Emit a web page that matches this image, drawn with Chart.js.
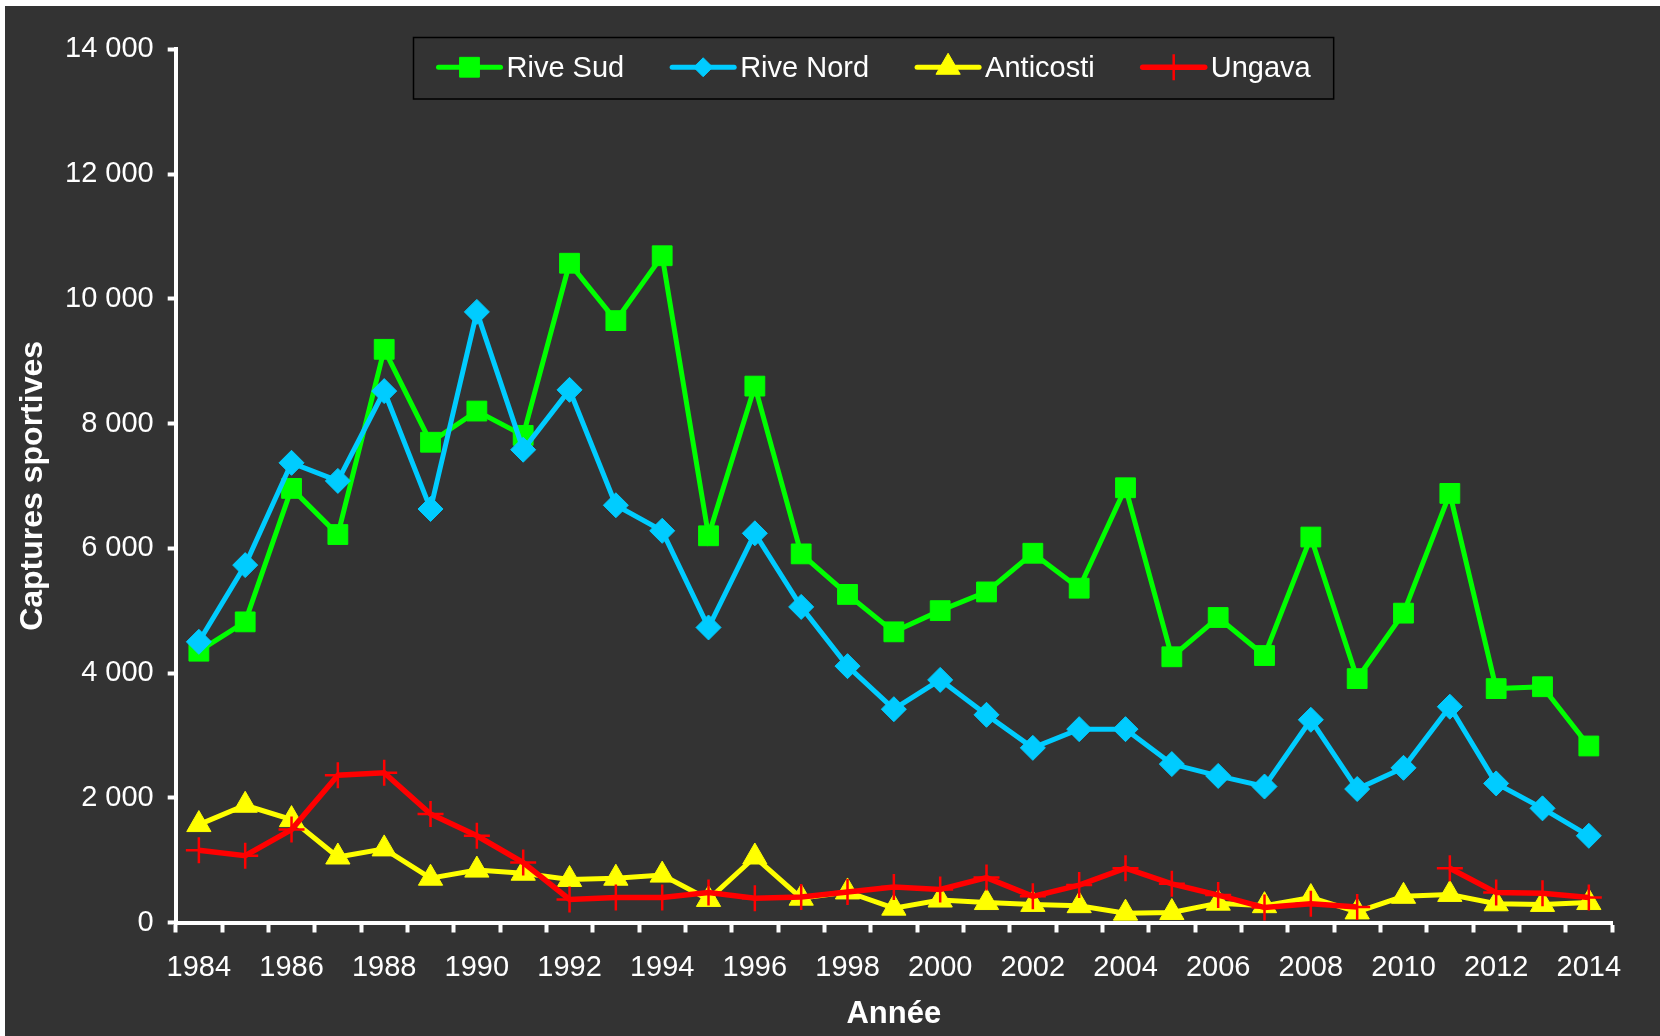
<!DOCTYPE html>
<html>
<head>
<meta charset="utf-8">
<script src="https://cdn.jsdelivr.net/npm/chart.js@4.4.1/dist/chart.umd.min.js"></script>
<style>
  html, body { margin: 0; padding: 0; background: #ffffff; }
  #wrap { position: absolute; left: 5px; top: 6px; width: 1655px; height: 1030px; background: #333333; }
  #chart { display: block; }
</style>
</head>
<body>
<div id="wrap"><canvas id="chart" width="1655" height="1030"></canvas></div>
<script>
// Données
const years = ['1984', '1985', '1986', '1987', '1988', '1989', '1990', '1991', '1992', '1993',
               '1994', '1995', '1996', '1997', '1998', '1999', '2000', '2001', '2002', '2003',
               '2004', '2005', '2006', '2007', '2008', '2009', '2010', '2011', '2012', '2013', '2014'];

const riveSud = [4350, 4820, 6960, 6220, 9190, 7700, 8200, 7810, 10570, 9650,
                 10690, 6200, 8600, 5910, 5260, 4660, 5000, 5300, 5920, 5360,
                 6970, 4260, 4890, 4280, 6180, 3910, 4960, 6880, 3750, 3780, 2830];

const riveNord = [4500, 5730, 7370, 7080, 8520, 6630, 9790, 7580, 8540, 6690,
                  6280, 4730, 6240, 5060, 4110, 3420, 3890, 3330, 2800, 3100,
                  3100, 2540, 2350, 2180, 3250, 2140, 2480, 3460, 2230, 1830, 1390];

const anticosti = [1570, 1880, 1650, 1050, 1180, 710, 840, 790, 690, 710,
                   760, 370, 1050, 390, 490, 230, 360, 320, 290, 270,
                   150, 160, 310, 270, 400, 170, 420, 450, 300, 290, 320];

const ungava = [1160, 1070, 1490, 2360, 2400, 1740, 1390, 960, 370, 400,
                400, 480, 390, 410, 490, 570, 530, 720, 420, 600,
                870, 620, 440, 240, 300, 250, null, 870, 480, 470, 400];

const yTickLabels = ['0', '2 000', '4 000', '6 000', '8 000', '10 000', '12 000', '14 000'];

Chart.defaults.font.family = '"Liberation Sans", Arial, sans-serif';
Chart.defaults.color = '#ffffff';

// Légende encadrée (trait + marqueur), dessinée par-dessus la zone du graphique
const legendBox = {
    id: 'legendBox',
    afterDraw(chart) {
        const ctx = chart.ctx;
        const left = 408.5, top = 31.5, height = 61.5;
        const lineLen = 62, gapText = 6, gapItem = 48, padL = 25, padR = 23;
        const items = chart.data.datasets;
        ctx.save();
        ctx.font = '29px "Liberation Sans", Arial, sans-serif';
        let width = padL + padR;
        items.forEach((ds, i) => {
            width += lineLen + gapText + ctx.measureText(ds.label).width + (i < items.length - 1 ? gapItem : 0);
        });
        ctx.fillStyle = '#333333';
        ctx.fillRect(left, top, width, height);
        ctx.strokeStyle = '#000000';
        ctx.lineWidth = 1.5;
        ctx.strokeRect(left, top, width, height);

        let x = left + padL;
        const cy = top + height / 2 - 1;
        items.forEach(ds => {
            ctx.strokeStyle = ds.borderColor;
            ctx.lineWidth = ds.borderWidth;
            ctx.lineCap = 'round';
            ctx.beginPath();
            ctx.moveTo(x, cy);
            ctx.lineTo(x + lineLen, cy);
            ctx.stroke();
            ctx.lineCap = 'butt';
            ctx.fillStyle = ds.pointBackgroundColor;
            ctx.strokeStyle = ds.pointBorderColor;
            ctx.lineWidth = ds.pointBorderWidth;
            const r = ds.pointStyle === 'rectRot' ? 9.5 : ds.pointRadius;
            Chart.helpers.drawPoint(ctx, {
                pointStyle: ds.pointStyle, radius: r,
                rotation: 0, borderWidth: ds.pointBorderWidth
            }, x + lineLen / 2, cy);
            x += lineLen + gapText;
            ctx.fillStyle = '#ffffff';
            ctx.textAlign = 'left';
            ctx.textBaseline = 'middle';
            ctx.fillText(ds.label, x, cy + 1.5);
            x += ctx.measureText(ds.label).width + gapItem;
        });
        ctx.restore();
    }
};

const ctx = document.getElementById('chart').getContext('2d');
const chart = new Chart(ctx, {
    type: 'line',
    data: {
        labels: years,
        datasets: [{
            label: 'Rive Sud',
            data: riveSud,
            borderColor: '#00ff00',
            borderWidth: 5,
            pointStyle: 'rect',
            pointRadius: 14,
            pointBackgroundColor: '#00ff00',
            pointBorderColor: '#00ff00',
            pointBorderWidth: 1,
            order: 3
        }, {
            label: 'Rive Nord',
            data: riveNord,
            borderColor: '#00ccff',
            borderWidth: 5,
            pointStyle: 'rectRot',
            pointRadius: 12.5,
            pointBackgroundColor: '#00ccff',
            pointBorderColor: '#00ccff',
            pointBorderWidth: 1,
            order: 2
        }, {
            label: 'Anticosti',
            data: anticosti,
            borderColor: '#ffff00',
            borderWidth: 5,
            pointStyle: 'triangle',
            pointRadius: 14,
            pointBackgroundColor: '#ffff00',
            pointBorderColor: '#ffff00',
            pointBorderWidth: 1,
            order: 1
        }, {
            label: 'Ungava',
            data: ungava,
            borderColor: '#ff0000',
            borderWidth: 5.5,
            pointStyle: 'cross',
            pointRadius: 13,
            pointBackgroundColor: '#ff0000',
            pointBorderColor: '#ff0000',
            pointBorderWidth: 2.5,
            order: 0
        }]
    },
    options: {
        responsive: false,
        animation: false,
        devicePixelRatio: 1,
        clip: false,
        spanGaps: false,
        layout: {
            padding: { left: 5, top: 43.3, right: 48, bottom: 0 }
        },
        elements: {
            line: { tension: 0, fill: false }
        },
        plugins: {
            legend: { display: false },
            tooltip: { enabled: false }
        },
        scales: {
            x: {
                type: 'category',
                offset: true,
                grid: {
                    display: true,
                    offset: true,
                    drawOnChartArea: false,
                    drawTicks: true,
                    tickLength: 10,
                    tickWidth: 4,
                    tickColor: '#ffffff',
                    color: '#ffffff'
                },
                border: { display: true, color: '#ffffff', width: 4 },
                ticks: {
                    autoSkip: false,
                    maxRotation: 0,
                    minRotation: 0,
                    padding: 18,
                    color: '#ffffff',
                    font: { size: 29 },
                    callback: function (value, index) {
                        return index % 2 === 0 ? this.getLabelForValue(value) : '';
                    }
                },
                title: {
                    display: true,
                    text: 'Année',
                    color: '#ffffff',
                    font: { size: 31, weight: 'bold' },
                    padding: { top: 0, bottom: 3 }
                },
                afterFit(scale) { scale.height = 113.5; }
            },
            y: {
                min: 0,
                max: 14000,
                grid: {
                    display: true,
                    drawOnChartArea: false,
                    drawTicks: true,
                    tickLength: 8,
                    tickWidth: 4,
                    tickColor: '#ffffff',
                    color: '#ffffff'
                },
                border: { display: true, color: '#ffffff', width: 4 },
                ticks: {
                    stepSize: 2000,
                    padding: 14,
                    color: '#ffffff',
                    font: { size: 29 },
                    callback: (value, index) => yTickLabels[index]
                },
                title: {
                    display: true,
                    text: 'Captures sportives',
                    color: '#ffffff',
                    font: { size: 32, weight: 'bold' },
                    padding: { top: 4, bottom: 4 }
                },
                afterFit(scale) { scale.width = 165.7; }
            }
        }
    },
    plugins: [legendBox]
});
</script>
</body>
</html>
